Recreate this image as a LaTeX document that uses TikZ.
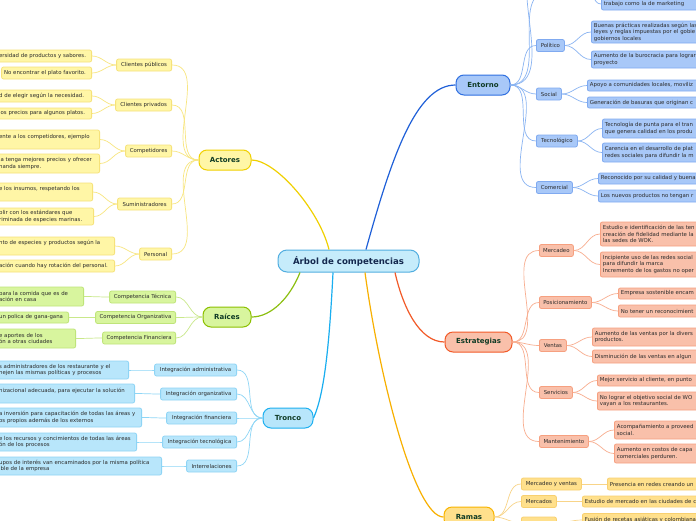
\documentclass[tikz,border=0pt]{standalone}
\usepackage{fontspec}
\setmainfont{DejaVu Sans}
\definecolor{leaftxt}{HTML}{2B2B2B}
\definecolor{topictxt}{HTML}{0E3A24}
\definecolor{roottxt}{HTML}{14284E}
\definecolor{rootF}{HTML}{C6ECFB}\definecolor{rootD}{HTML}{52AEE0}
\definecolor{actF}{HTML}{FFF6A6}\definecolor{actD}{HTML}{F0D000}\definecolor{actB}{HTML}{F6E27A}\definecolor{actS}{HTML}{F8E680}\definecolor{actL}{HTML}{F0D000}
\definecolor{raiF}{HTML}{D8F59E}\definecolor{raiD}{HTML}{8CC000}\definecolor{raiB}{HTML}{BFE47A}\definecolor{raiS}{HTML}{C9E88A}\definecolor{raiL}{HTML}{8CBF10}
\definecolor{troF}{HTML}{B8E6FB}\definecolor{troD}{HTML}{1EB0F0}\definecolor{troB}{HTML}{8ED4F5}\definecolor{troS}{HTML}{8ED6F6}\definecolor{troL}{HTML}{19AEF0}
\definecolor{entF}{HTML}{A8C8F8}\definecolor{entD}{HTML}{2F6FE0}\definecolor{entB}{HTML}{80AAF0}\definecolor{entS}{HTML}{8AB4F2}\definecolor{entL}{HTML}{1F60D8}
\definecolor{estF}{HTML}{F9C0AA}\definecolor{estD}{HTML}{F25A28}\definecolor{estB}{HTML}{F6A080}\definecolor{estS}{HTML}{F8AE90}\definecolor{estL}{HTML}{F25A28}
\definecolor{ramF}{HTML}{FFE08C}\definecolor{ramD}{HTML}{F8B400}\definecolor{ramB}{HTML}{F8D070}\definecolor{ramS}{HTML}{F8D488}\definecolor{ramL}{HTML}{F8B000}
\newcommand\Lm[1]{\mbox{#1}}
\tikzset{
  base/.style={font=\fontsize{5.4}{6.5}\selectfont, text=leaftxt, line width=0.8pt, rounded corners=2pt},
  leafbox/.style={base, draw, align=left, inner xsep=2.5pt, inner ysep=0pt, minimum height=12pt},
  subbox/.style={base, draw, align=center, inner xsep=0pt, inner ysep=0pt, minimum height=12pt},
  topicbox/.style={draw, line width=1pt, rounded corners=8pt, font=\fontsize{7}{8}\selectfont\bfseries, text=topictxt, minimum height=20pt, inner sep=0pt},
  rootbox/.style={draw=rootD, fill=rootF, line width=1pt, rounded corners=9pt, font=\fontsize{8.6}{10}\selectfont\bfseries, text=roottxt, minimum height=22pt, minimum width=141pt, inner sep=0pt},
  mainln/.style={line width=1.2pt},
  subln/.style={line width=0.7pt},
  yl/.style={leafbox, fill=actF, draw=actB}, ys/.style={subbox, fill=actF, draw=actB},
  gl/.style={leafbox, fill=raiF, draw=raiB}, gs/.style={subbox, fill=raiF, draw=raiB},
  cl/.style={leafbox, fill=troF, draw=troB}, cs/.style={subbox, fill=troF, draw=troB},
  bl/.style={leafbox, fill=entF, draw=entB}, bs/.style={subbox, fill=entF, draw=entB},
  sl/.style={leafbox, fill=estF, draw=estB}, ss/.style={subbox, fill=estF, draw=estB},
  ol/.style={leafbox, fill=ramF, draw=ramB}, os/.style={subbox, fill=ramF, draw=ramB},
}
\begin{document}
\begin{tikzpicture}[x=1pt,y=1pt]
\useasboundingbox (0,0) rectangle (696,-520);
\clip (0,0) rectangle (696,-520);
\fill[white] (0,0) rectangle (696,-520);

% ---------- root and topics
\node[rootbox] (root) at (348.5,-261) {Árbol de competencias};
\node[topicbox, fill=entF, draw=entD, minimum width=54pt] (ent) at (483,-85) {Entorno};
\node[topicbox, fill=estF, draw=estD, minimum width=67pt] (est) at (478.5,-342) {Estrategias};
\node[topicbox, fill=actF, draw=actD, minimum width=52pt] (act) at (225,-160) {Actores};
\node[topicbox, fill=raiF, draw=raiD, minimum width=48pt] (rai) at (227,-317) {Raíces};
\node[topicbox, fill=troF, draw=troD, minimum width=50pt] (tro) at (288,-418) {Tronco};
\node[topicbox, fill=ramF, draw=ramD, minimum width=50pt] (ram) at (469,-517) {Ramas};

\draw[mainln, entL] ([xshift=17.5pt]root.north) .. controls +(25,90) and +(-40,0) .. (ent.west);
\draw[mainln, actL] ([xshift=-19.5pt]root.north) .. controls +(-10,40) and +(24,0) .. (act.east);
\draw[mainln, raiL] ([xshift=-48.5pt]root.south) .. controls +(-10,-25) and +(20,0) .. (rai.east);
\draw[mainln, troL] ([xshift=-15.5pt]root.south) .. controls +(-4,-80) and +(10,22) .. (tro.east);
\draw[mainln, ramL] ([xshift=16.5pt]root.south) .. controls +(15,-110) and +(-28,0) .. (ram.west);
\draw[mainln, estL] ([xshift=46.5pt]root.south) .. controls +(8,-35) and +(-25,0) .. (est.west);

% ---------- Actores
\node[ys, anchor=east, minimum width=55pt] (cpub) at (172,-65) {Clientes públicos};
\node[ys, anchor=east, minimum width=56pt] (cpri) at (172,-105) {Clientes privados};
\node[ys, anchor=east, minimum width=46pt] (comp) at (172,-151) {Competidores};
\node[ys, anchor=east, minimum width=54pt] (sumi) at (172,-204) {Suministradores};
\node[ys, anchor=east, minimum width=32pt] (pers) at (172,-254) {Personal};
\foreach \n in {cpub,cpri,comp,sumi,pers} \draw[subln, actS] (act.west) to[out=180,in=0] (\n.east);

\node[yl, anchor=east, text width=90pt] (a11) at (92,-56) {\Lm{ersidad de productos y sabores.}};
\node[yl, anchor=east, text width=85pt] (a12) at (92,-73) {\Lm{No encontrar el plato favorito.}};
\node[yl, anchor=east, text width=90pt] (a21) at (92,-96) {\Lm{d de elegir según la necesidad.}};
\node[yl, anchor=east, text width=90pt, minimum height=11pt] (a22) at (92,-113.5) {\Lm{los precios para algunos platos.}};
\node[yl, anchor=east, text width=98pt, minimum height=19pt] (a31) at (100,-139.5) {\Lm{ente a los competidores, ejemplo}\\\mbox{}};
\node[yl, anchor=east, text width=98pt, minimum height=19pt] (a32) at (100,-163.5) {\Lm{ia tenga mejores precios y ofrecer}\\\Lm{nanda siempre.}};
\node[yl, anchor=east, text width=91pt, minimum height=18pt] (a41) at (93,-192) {\Lm{e los insumos, respetando los}\\\mbox{}};
\node[yl, anchor=east, text width=92pt, minimum height=17pt] (a42) at (94,-216.5) {\Lm{plir con los estándares que}\\\Lm{riminada de especies marinas.}};
\node[yl, anchor=east, text width=113pt, minimum height=18pt] (a51) at (115,-246) {\Lm{nto de especies y productos según la}\\\mbox{}};
\node[yl, anchor=east, text width=113pt] (a52) at (115,-266) {\Lm{ación cuando hay rotación del personal.}};
\draw[subln, actS] (cpub.west) to[out=180,in=0] (a11.east);
\draw[subln, actS] (cpub.west) to[out=180,in=0] (a12.east);
\draw[subln, actS] (cpri.west) to[out=180,in=0] (a21.east);
\draw[subln, actS] (cpri.west) to[out=180,in=0] (a22.east);
\draw[subln, actS] (comp.west) to[out=180,in=0] (a31.east);
\draw[subln, actS] (comp.west) to[out=180,in=0] (a32.east);
\draw[subln, actS] (sumi.west) to[out=180,in=0] (a41.east);
\draw[subln, actS] (sumi.west) to[out=180,in=0] (a42.east);
\draw[subln, actS] (pers.west) to[out=180,in=0] (a51.east);
\draw[subln, actS] (pers.west) to[out=180,in=0] (a52.east);

% ---------- Raices
\node[gs, anchor=east, minimum width=66pt] (rt) at (176,-297) {Competencia Técnica};
\node[gs, anchor=east, minimum width=80pt] (ro) at (176,-317.5) {Competencia Organizativa};
\node[gs, anchor=east, minimum width=73pt] (rf) at (176,-338) {Competencia Financiera};
\foreach \n in {rt,ro,rf} \draw[subln, raiS] (rai.west) to[out=180,in=0] (\n.east);
\node[gl, anchor=east, text width=82pt, minimum height=19pt] (r1) at (84,-296.5) {\Lm{para la comida que es de}\\\Lm{ación en casa}};
\node[gl, anchor=east, text width=67pt, minimum height=11pt] (r2) at (69,-317.5) {\Lm{un polica de gana-gana}};
\node[gl, anchor=east, text width=74pt, minimum height=19pt] (r3) at (76,-338.5) {\Lm{e aportes de los}\\\Lm{ón a otras ciudades}};
\draw[subln, raiS] (rt.west) to[out=180,in=0] (r1.east);
\draw[subln, raiS] (ro.west) to[out=180,in=0] (r2.east);
\draw[subln, raiS] (rf.west) to[out=180,in=0] (r3.east);

% ---------- Tronco
\node[cs, anchor=east, minimum width=82pt] (t1) at (237,-370) {Integración administrativa};
\node[cs, anchor=east, minimum width=76pt] (t2) at (237,-394) {Integración organizativa};
\node[cs, anchor=east, minimum width=70pt] (t3) at (237,-418) {Integración financiera};
\node[cs, anchor=east, minimum width=74pt] (t4) at (237,-442) {Integración tecnológica};
\node[cs, anchor=east, minimum width=50pt] (t5) at (237,-466) {Interrelaciones};
\foreach \n in {t1,t2,t3,t4,t5} \draw[subln, troS] (tro.west) to[out=180,in=0] (\n.east);
\node[cl, anchor=east, text width=127pt, minimum height=18pt] (t1l) at (129,-370) {\Lm{s administradores de los restaurante y el}\\\Lm{nejen las mismas políticas y procesos}};
\node[cl, anchor=east, text width=133pt, minimum height=19pt] (t2l) at (135,-393.5) {\Lm{nizacional adecuada, para ejecutar la solución}\\\mbox{}};
\node[cl, anchor=east, text width=140pt, minimum height=19pt] (t3l) at (142,-417.5) {\Lm{a inversión para capacitación de todas las áreas y}\\\Lm{os propios además de los externos}};
\node[cl, anchor=east, text width=135pt, minimum height=18pt] (t4l) at (137,-442) {\Lm{e los recursos y concimientos de todas las áreas}\\\Lm{ón de los procesos}};
\node[cl, anchor=east, text width=160pt, minimum height=18pt] (t5l) at (162,-466) {\Lm{upos de interés van encaminados por la misma política}\\\Lm{ible de la empresa}};
\draw[subln, troS] (t1.west) to[out=180,in=0] (t1l.east);
\draw[subln, troS] (t2.west) to[out=180,in=0] (t2l.east);
\draw[subln, troS] (t3.west) to[out=180,in=0] (t3l.east);
\draw[subln, troS] (t4.west) to[out=180,in=0] (t4l.east);
\draw[subln, troS] (t5.west) to[out=180,in=0] (t5l.east);

% ---------- Entorno
\node[bs, anchor=west, minimum width=28pt] (pol) at (536,-45.5) {Político};
\node[bs, anchor=west, minimum width=25pt] (soc) at (536,-94) {Social};
\node[bs, anchor=west, minimum width=41pt] (tec) at (536,-141) {Tecnológico};
\node[bs, anchor=west, minimum width=36pt] (com) at (536,-187.5) {Comercial};
\coordinate (eA) at (548,8);
\coordinate (eB) at (548,45);
\coordinate (eC) at (585,12);
\foreach \n in {pol,soc,tec,com} \draw[subln, entS] (ent.east) to[out=0,in=180] (\n.west);
\draw[subln, entS] (ent.east) to[out=0,in=180] (eA);
\draw[subln, entS] (ent.east) to[out=0,in=180] (eB);
\node[bl, anchor=west, text width=130pt, minimum height=12pt] (e0) at (601,-4) {trabajo como la de marketing};
\node[bl, anchor=west, text width=130pt, minimum height=22pt] (e11) at (591,-32) {Buenas prácticas realizadas según las\\leyes y reglas impuestas por el gobie\\gobiernos locales};
\node[bl, anchor=west, text width=130pt, minimum height=17pt] (e12) at (591,-59.5) {Aumento de la burocracia para lograr\\proyecto};
\node[bl, anchor=west, text width=130pt, minimum height=11pt] (e21) at (587,-85.5) {Apoyo a comunidades locales, moviliz};
\node[bl, anchor=west, text width=130pt, minimum height=11pt] (e22) at (587,-102.5) {Generación de basuras que originan c};
\node[bl, anchor=west, text width=130pt, minimum height=19pt] (e31) at (602,-128.5) {Tecnología de punta para el tran\\que genera calidad en los produ};
\node[bl, anchor=west, text width=130pt, minimum height=19pt] (e32) at (602,-152.5) {Carencia en el desarrollo de plat\\redes sociales para difundir la m};
\node[bl, anchor=west, text width=130pt, minimum height=11pt] (e41) at (598,-178.5) {Reconocido por su calidad y buena};
\node[bl, anchor=west, text width=130pt, minimum height=12pt] (e42) at (598,-196) {Los nuevos productos no tengan r};
\draw[subln, entS] (eC) to[out=0,in=180] (e0.west);
\draw[subln, entS] (pol.east) to[out=0,in=180] (e11.west);
\draw[subln, entS] (pol.east) to[out=0,in=180] (e12.west);
\draw[subln, entS] (soc.east) to[out=0,in=180] (e21.west);
\draw[subln, entS] (soc.east) to[out=0,in=180] (e22.west);
\draw[subln, entS] (tec.east) to[out=0,in=180] (e31.west);
\draw[subln, entS] (tec.east) to[out=0,in=180] (e32.west);
\draw[subln, entS] (com.east) to[out=0,in=180] (e41.west);
\draw[subln, entS] (com.east) to[out=0,in=180] (e42.west);

% ---------- Estrategias
\node[ss, anchor=west, minimum width=34pt] (mer) at (539,-250.5) {Mercadeo};
\node[ss, anchor=west, minimum width=52pt] (pos) at (539,-302.5) {Posicionamiento};
\node[ss, anchor=west, minimum width=27pt] (ven) at (539,-345.5) {Ventas};
\node[ss, anchor=west, minimum width=33pt] (ser) at (539,-392.5) {Servicios};
\node[ss, anchor=west, minimum width=49pt] (man) at (539,-441.5) {Mantenimiento};
\foreach \n in {mer,pos,ven,ser,man} \draw[subln, estS] (est.east) to[out=0,in=180] (\n.west);
\node[sl, anchor=west, text width=130pt, minimum height=24pt] (s11) at (600,-234) {Estudio e identificación de las ten\\creación de fidelidad mediante la\\las sedes de WOK.};
\node[sl, anchor=west, text width=130pt, minimum height=25pt] (s12) at (600,-264.5) {Incipiente uso de las redes social\\para difundir la marca\\Incremento de los gastos no oper};
\node[sl, anchor=west, text width=130pt, minimum height=11pt] (s21) at (618,-293.5) {Empresa sostenible encam};
\node[sl, anchor=west, text width=130pt, minimum height=12pt] (s22) at (618,-311) {No tener un reconocimient};
\node[sl, anchor=west, text width=130pt, minimum height=18pt] (s31) at (592,-337) {Aumento de las ventas por la divers\\productos.};
\node[sl, anchor=west, text width=130pt, minimum height=13pt] (s32) at (592,-356.5) {Disminución de las ventas en algun};
\node[sl, anchor=west, text width=130pt, minimum height=11pt] (s41) at (597,-380.5) {Mejor servicio al cliente, en punto};
\node[sl, anchor=west, text width=130pt, minimum height=18pt] (s42) at (597,-401) {No lograr el objetivo social de WO\\vayan a los restaurantes.};
\node[sl, anchor=west, text width=130pt, minimum height=18pt] (s51) at (614,-430) {Acompañamiento a proveed\\social.};
\node[sl, anchor=west, text width=130pt, minimum height=19pt] (s52) at (614,-453.5) {Aumento en costos de capa\\comerciales perduren.};
\draw[subln, estS] (mer.east) to[out=0,in=180] (s11.west);
\draw[subln, estS] (mer.east) to[out=0,in=180] (s12.west);
\draw[subln, estS] (pos.east) to[out=0,in=180] (s21.west);
\draw[subln, estS] (pos.east) to[out=0,in=180] (s22.west);
\draw[subln, estS] (ven.east) to[out=0,in=180] (s31.west);
\draw[subln, estS] (ven.east) to[out=0,in=180] (s32.west);
\draw[subln, estS] (ser.east) to[out=0,in=180] (s41.west);
\draw[subln, estS] (ser.east) to[out=0,in=180] (s42.west);
\draw[subln, estS] (man.east) to[out=0,in=180] (s51.west);
\draw[subln, estS] (man.east) to[out=0,in=180] (s52.west);

% ---------- Ramas
\node[os, anchor=west, minimum width=60pt] (mv) at (521,-484) {Mercadeo y ventas};
\node[os, anchor=west, minimum width=35pt] (mk) at (521,-501.5) {Mercados};
\node[os, anchor=west, minimum width=35pt] (rx) at (521,-523) {};
\foreach \n in {mv,mk,rx} \draw[subln, ramS] (ram.east) to[out=0,in=180] (\n.west);
\node[ol, anchor=west, text width=130pt] (mvl) at (607,-484) {Presencia en redes creando un};
\node[ol, anchor=west, text width=130pt, minimum height=11pt] (mkl) at (582,-501.5) {Estudio de mercado en las ciudades de c};
\node[ol, anchor=west, text width=130pt, minimum height=13pt] (rxl) at (582,-520) {Fusión de recetas asiáticas y colombianas};
\draw[subln, ramS] (mv.east) -- (mvl.west);
\draw[subln, ramS] (mk.east) -- (mkl.west);
\draw[subln, ramS] (rx.east) to[out=0,in=180] (rxl.west);
\end{tikzpicture}
\end{document}
